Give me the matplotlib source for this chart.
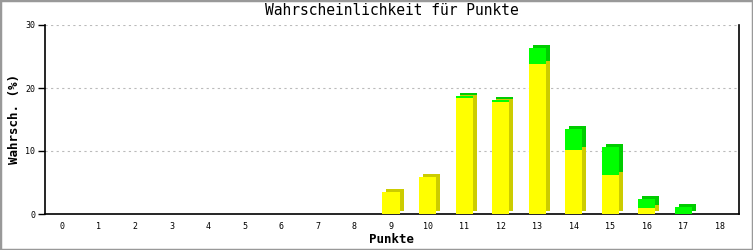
import numpy as np
import matplotlib
matplotlib.use("Agg")
import matplotlib.pyplot as plt
import matplotlib.transforms as mtransforms
from matplotlib.patches import Rectangle

# Daten
punkte = list(range(19))
gelb = [0, 0, 0, 0, 0, 0, 0, 0, 0, 3.5, 5.9, 18.4, 17.8, 23.8, 10.2, 6.2, 1.0, 0, 0]
gruen = [0, 0, 0, 0, 0, 0, 0, 0, 0, 0, 0, 0.3, 0.3, 2.6, 3.3, 4.5, 1.4, 1.1, 0]
y_ticks = [0, 10, 20, 30]

plt.rcParams['font.family'] = ['DejaVu Sans Mono']

fig = plt.figure(figsize=(7.53, 2.5), dpi=100)
ax = fig.add_axes([45 / 753, 36 / 250, 694 / 753, 189 / 250])

x = np.array(punkte)
g = np.array(gelb)
gr = np.array(gruen)
breite = 0.47

# 3D-Schatten: gleiche Balken, nach rechts oben verschoben, dunklere Farbe
versatz = ax.transData + mtransforms.ScaledTranslation(4 / 100, 3 / 100, fig.dpi_scale_trans)
hat_g = g > 0
hat_gr = gr > 0
ax.bar(x[hat_g], g[hat_g], breite, color="#cccc00", transform=versatz, zorder=2)
ax.bar(x[hat_gr], gr[hat_gr], breite, bottom=g[hat_gr], color="#00cc00", transform=versatz, zorder=2)
ax.bar(x[hat_g], g[hat_g], breite, color="#ffff00", zorder=3)
ax.bar(x[hat_gr], gr[hat_gr], breite, bottom=g[hat_gr], color="#00ff00", zorder=3)

ax.set_xlim(-0.465, 18.52)
ax.set_ylim(0, 30)
ax.set_xticks(punkte)
ax.set_xticklabels([str(p) for p in punkte], fontsize=6)
ax.set_yticks(y_ticks)
ax.set_yticklabels([str(t) for t in y_ticks], fontsize=6)
ax.tick_params(axis="x", length=0, pad=6)
ax.tick_params(axis="y", length=5, width=1, pad=2, direction="out")

ax.grid(axis="y", color="#bbbbbb", linestyle=(0, (2, 3)), linewidth=0.8, zorder=0)
ax.set_axisbelow(True)
ax.spines["top"].set_visible(False)
for s in ["left", "right", "bottom"]:
    ax.spines[s].set_color("black")
    ax.spines[s].set_linewidth(1.2)

ax.set_title("Wahrscheinlichkeit für Punkte", fontsize=10.5, pad=7)
ax.set_xlabel("Punkte", fontsize=9, fontweight="bold", labelpad=1)
ax.set_ylabel("Wahrsch. (%)", fontsize=9, fontweight="bold", labelpad=3)

# grauer Rahmen
fig.patches.append(Rectangle((0, 0), 1, 1, transform=fig.transFigure, fill=False,
                             edgecolor="#999999", linewidth=2.5))

fig.savefig("out.png", dpi=100)
